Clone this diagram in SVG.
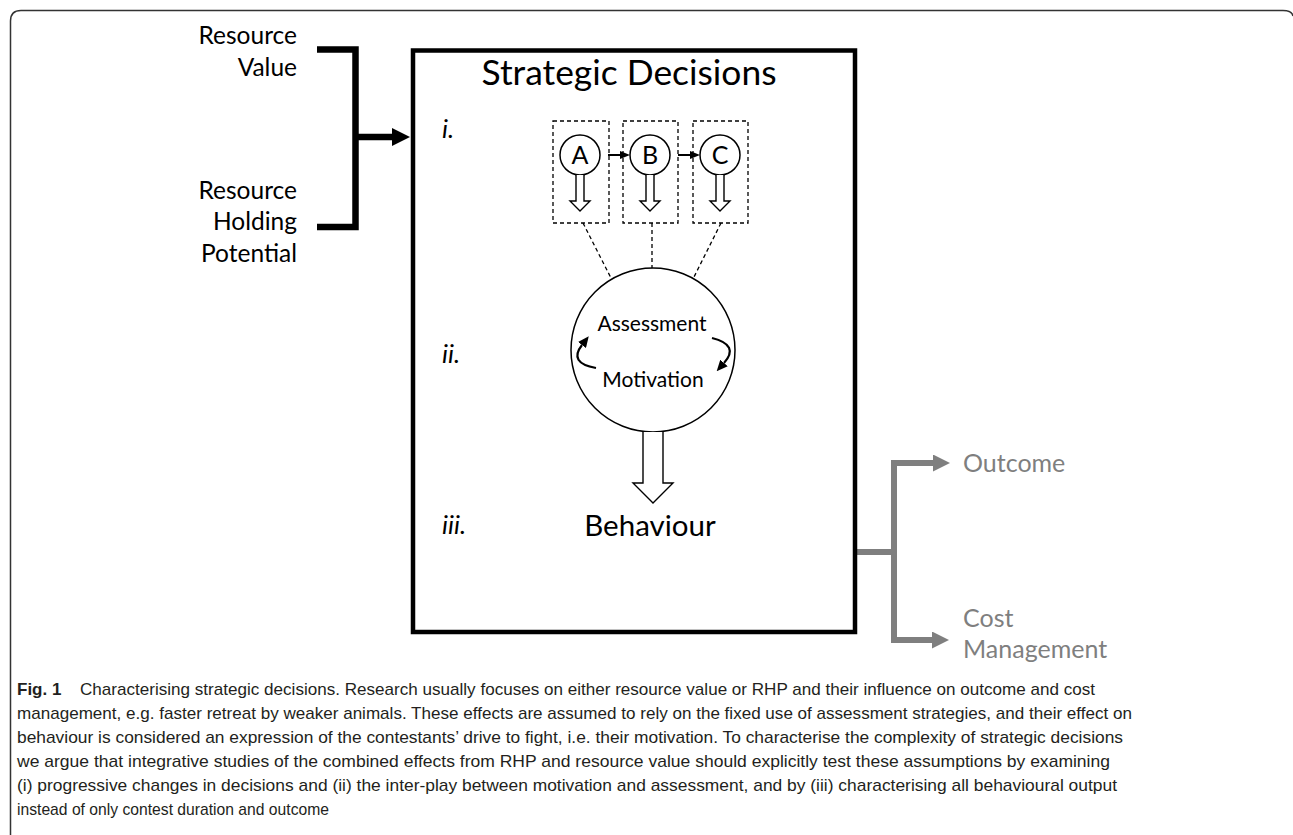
<svg xmlns="http://www.w3.org/2000/svg" width="1293" height="835" viewBox="0 0 1293 835">
<style>
  .lbl { font-family: Lato, "Open Sans", sans-serif; fill: #000; }
  .gray { font-family: Lato, "Open Sans", sans-serif; fill: #7f7f7f; font-size: 25px; }
  .ital { font-family: Lato, "Open Sans", sans-serif; font-style: italic; font-size: 26px; fill: #000; }
  .cap { font-family: "Liberation Sans", Arial, sans-serif; font-size: 17px; fill: #231f20; }
  .dash { fill: none; stroke: #000; stroke-width: 1.3; stroke-dasharray: 4 3; }
  .thin { fill: #fff; stroke: #000; stroke-width: 1.5; }
  .hollow { fill: #fff; stroke: #000; stroke-width: 1.4; stroke-linejoin: miter; }
</style>
<defs>
  <marker id="blkBig" markerUnits="userSpaceOnUse" viewBox="0 0 18 18" refX="0" refY="9" markerWidth="18" markerHeight="18" orient="auto">
    <path d="M0,0 L18,9 L0,18 z" fill="#000"/>
  </marker>
  <marker id="grayHead" markerUnits="userSpaceOnUse" viewBox="0 0 17 17" refX="0" refY="8.5" markerWidth="17" markerHeight="17" orient="auto">
    <path d="M0,0 L17,8.5 L0,17 z" fill="#7f7f7f"/>
  </marker>
  <marker id="small" markerUnits="userSpaceOnUse" viewBox="0 0 10 8" refX="0" refY="4" markerWidth="10" markerHeight="8" orient="auto">
    <path d="M0,0 L10,4 L0,8 z" fill="#000"/>
  </marker>
  <marker id="curl" markerUnits="userSpaceOnUse" viewBox="0 0 11 10" refX="0" refY="5" markerWidth="11" markerHeight="10" orient="auto">
    <path d="M0,0 L11,5 L0,10 z" fill="#000"/>
  </marker>
</defs>

<!-- page frame -->
<path d="M10.5,835 V21 Q10.5,10.5 21,10.5 H1283 Q1292,10.5 1293,16" fill="none" stroke="#333" stroke-width="1.5"/>

<!-- connectors -->
<g id="connectors">
  <path d="M317,49.5 H355.5 V227 H317" fill="none" stroke="#000" stroke-width="6.5"/>
  <path d="M355,137 H392" fill="none" stroke="#000" stroke-width="6.5" marker-end="url(#blkBig)"/>
  <path d="M857,552 H894" fill="none" stroke="#7f7f7f" stroke-width="6"/>
  <path d="M894,463 V640" fill="none" stroke="#7f7f7f" stroke-width="6"/>
  <path d="M891,463 H933" fill="none" stroke="#7f7f7f" stroke-width="6" marker-end="url(#grayHead)"/>
  <path d="M891,640 H932" fill="none" stroke="#7f7f7f" stroke-width="6" marker-end="url(#grayHead)"/>
  <path d="M608,155 H620" fill="none" stroke="#000" stroke-width="2" marker-end="url(#small)"/>
  <path d="M678,155 H690" fill="none" stroke="#000" stroke-width="2" marker-end="url(#small)"/>
  <path d="M583,223 L612,280" class="dash"/>
  <path d="M652,223 L652,268" class="dash"/>
  <path d="M721,223 L693,279" class="dash"/>
</g>

<!-- left inputs -->
<g id="resource-value">
  <text class="lbl" font-size="24.5" text-anchor="end" x="297" y="44">Resource</text>
  <text class="lbl" font-size="24.5" text-anchor="end" x="297" y="76">Value</text>
</g>
<g id="rhp">
  <text class="lbl" font-size="24.5" text-anchor="end" x="297" y="199">Resource</text>
  <text class="lbl" font-size="24.5" text-anchor="end" x="297" y="230">Holding</text>
  <text class="lbl" font-size="24.5" text-anchor="end" x="297" y="262">Potential</text>
</g>

<!-- main box -->
<g id="strategic-decisions">
  <rect x="413" y="50.5" width="442" height="581.5" fill="none" stroke="#000" stroke-width="4.5"/>
  <text class="lbl" font-size="34" text-anchor="middle" x="629" y="85" textLength="295" lengthAdjust="spacingAndGlyphs">Strategic Decisions</text>
  <text class="ital" x="442" y="138">i.</text>
  <text class="ital" x="442" y="363">ii.</text>
  <text class="ital" x="442" y="534">iii.</text>
</g>

<g id="node-A">
  <rect x="553" y="121" width="56" height="102" class="dash"/>
  <circle cx="580" cy="155" r="20" class="thin"/>
  <text class="lbl" font-size="25" text-anchor="middle" x="580" y="164">A</text>
  <path d="M576,175 V201 H570 L580,211 L590,201 H584 V175" class="hollow"/>
</g>
<g id="node-B">
  <rect x="623" y="121" width="55" height="102" class="dash"/>
  <circle cx="650" cy="155" r="20" class="thin"/>
  <text class="lbl" font-size="25" text-anchor="middle" x="650" y="164">B</text>
  <path d="M646,175 V201 H640 L650,211 L660,201 H654 V175" class="hollow"/>
</g>
<g id="node-C">
  <rect x="693" y="121" width="55" height="102" class="dash"/>
  <circle cx="720" cy="155" r="20" class="thin"/>
  <text class="lbl" font-size="25" text-anchor="middle" x="720" y="164">C</text>
  <path d="M716,175 V201 H710 L720,211 L730,201 H724 V175" class="hollow"/>
</g>

<g id="assessment-motivation">
  <circle cx="653" cy="350" r="82" class="thin"/>
  <text class="lbl" font-size="21" text-anchor="middle" x="652" y="331">Assessment</text>
  <text class="lbl" font-size="21" text-anchor="middle" x="653" y="387">Motivation</text>
  <path d="M596,368 Q568,363 582,345" fill="none" stroke="#000" stroke-width="2.2" marker-end="url(#curl)"/>
  <path d="M712,338 Q740,345 724,363" fill="none" stroke="#000" stroke-width="2.2" marker-end="url(#curl)"/>
  <path d="M643,432 V483 H633 L653,503 L673,483 H663 V432" class="hollow"/>
</g>

<g id="behaviour">
  <text class="lbl" font-size="29.5" text-anchor="middle" x="650" y="536">Behaviour</text>
</g>

<g id="outcome">
  <text class="gray" x="963" y="472">Outcome</text>
</g>
<g id="cost-management">
  <text class="gray" x="963" y="627">Cost</text>
  <text class="gray" x="963" y="658">Management</text>
</g>

<!-- caption -->
<g id="caption">
  <text class="cap" x="17" y="695" font-weight="bold">Fig. 1</text>
  <text class="cap" x="80" y="695" textLength="1015" lengthAdjust="spacingAndGlyphs">Characterising strategic decisions. Research usually focuses on either resource value or RHP and their influence on outcome and cost</text>
  <text class="cap" x="17" y="719" textLength="1115" lengthAdjust="spacingAndGlyphs">management, e.g. faster retreat by weaker animals. These effects are assumed to rely on the fixed use of assessment strategies, and their effect on</text>
  <text class="cap" x="17" y="743" textLength="1106" lengthAdjust="spacingAndGlyphs">behaviour is considered an expression of the contestants’ drive to fight, i.e. their motivation. To characterise the complexity of strategic decisions</text>
  <text class="cap" x="17" y="767" textLength="1093" lengthAdjust="spacingAndGlyphs">we argue that integrative studies of the combined effects from RHP and resource value should explicitly test these assumptions by examining</text>
  <text class="cap" x="17" y="791" textLength="1100" lengthAdjust="spacingAndGlyphs">(i) progressive changes in decisions and (ii) the inter-play between motivation and assessment, and by (iii) characterising all behavioural output</text>
  <text class="cap" x="17" y="815" textLength="312" lengthAdjust="spacingAndGlyphs">instead of only contest duration and outcome</text>
</g>
</svg>
